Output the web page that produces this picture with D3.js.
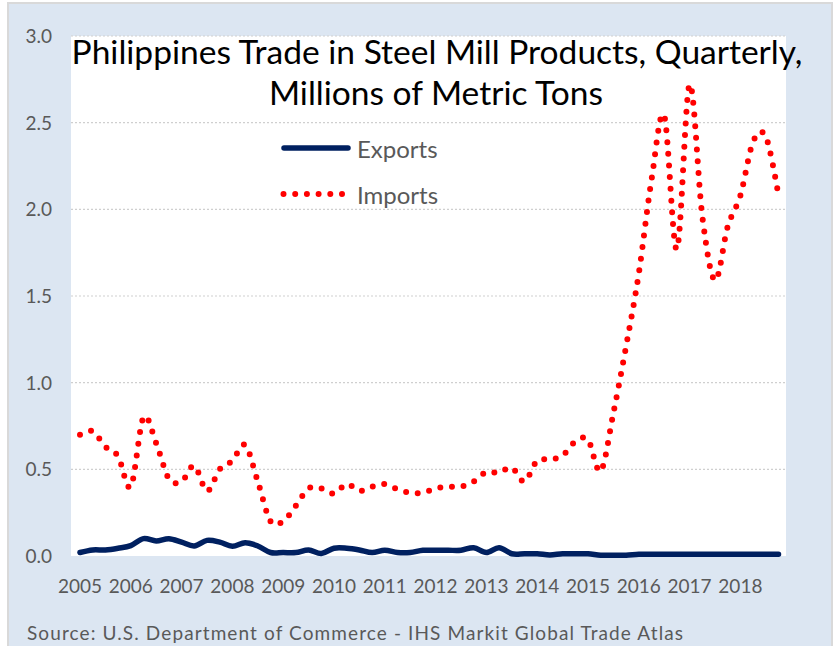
<!DOCTYPE html>
<html>
<head>
<meta charset="utf-8">
<script src="https://cdn.jsdelivr.net/npm/d3@7"></script>
<style>
  body { margin: 0; background: #fff; }
  svg { display: block; }
</style>
</head>
<body>
<div class="container"></div>
<script>
// quarterly series, 2005 Q1 .. 2018 Q4 (millions of metric tons)
const years = [2005, 2006, 2007, 2008, 2009, 2010, 2011, 2012, 2013, 2014, 2015, 2016, 2017, 2018];
const quarters = years.flatMap(y => ["Q1", "Q2", "Q3", "Q4"].map(q => y + q));

const imports = [
  0.70, 0.72, 0.63, 0.575, 0.40, 0.80, 0.65, 0.445,
  0.43, 0.52, 0.375, 0.50, 0.55, 0.64, 0.43, 0.20,
  0.20, 0.29, 0.39, 0.39, 0.36, 0.415, 0.375, 0.40,
  0.415, 0.385, 0.365, 0.365, 0.39, 0.40, 0.40, 0.43,
  0.485, 0.48, 0.51, 0.43, 0.55, 0.555, 0.58, 0.66,
  0.67, 0.49, 0.825, 1.21, 1.63, 2.17, 2.54, 1.77,
  2.72, 1.96, 1.59, 1.90, 2.08, 2.39, 2.42, 2.08
];
const exports_ = [
  0.02, 0.035, 0.035, 0.045, 0.06, 0.10, 0.087, 0.10,
  0.08, 0.058, 0.09, 0.08, 0.056, 0.077, 0.058, 0.02,
  0.02, 0.02, 0.035, 0.015, 0.045, 0.045, 0.035, 0.02,
  0.033, 0.02, 0.02, 0.033, 0.033, 0.033, 0.033, 0.048,
  0.02, 0.048, 0.013, 0.013, 0.013, 0.006, 0.013, 0.013,
  0.013, 0.005, 0.005, 0.005, 0.01, 0.01, 0.01, 0.01,
  0.01, 0.01, 0.01, 0.01, 0.01, 0.01, 0.01, 0.01
];
const yTicks = [0, 0.5, 1.0, 1.5, 2.0, 2.5, 3.0];
const titleLines = ["Philippines Trade in Steel Mill Products, Quarterly,", "Millions of Metric Tons"];
const seriesNames = ["Exports", "Imports"];
const sourceText = "Source: U.S. Department of Commerce - IHS Markit Global Trade Atlas";

const width = 835, height = 646;
const plot = { left: 71, right: 786, top: 36, bottom: 556 };
const font = "Lato, 'Open Sans', sans-serif";
const grey = "#595959";

const svg = d3.select(".container")
  .append("svg")
  .attr("width", width)
  .attr("height", height)
  .attr("font-family", font);

// chart area + plot area
svg.append("rect")
  .attr("x", 8).attr("y", 3)
  .attr("width", 824).attr("height", 660)
  .attr("fill", "#dce6f2")
  .attr("stroke", "#d9d9d9")
  .attr("stroke-width", 2);
svg.append("rect")
  .attr("x", plot.left).attr("y", plot.top)
  .attr("width", plot.right - plot.left)
  .attr("height", plot.bottom - plot.top)
  .attr("fill", "#fff");

let x = d3.scalePoint().domain(quarters).range([80, 778.5]);
let y = d3.scaleLinear().domain([0, 3]).range([plot.bottom, plot.top]);

// dotted gridlines
svg.append("g")
  .selectAll("line")
  .data(yTicks.filter(d => d > 0))
  .join("line")
  .attr("x1", plot.left).attr("x2", plot.right)
  .attr("y1", d => y(d)).attr("y2", d => y(d))
  .attr("stroke", "#cfcfcf")
  .attr("stroke-width", 1.2)
  .attr("stroke-dasharray", "2,2");

// y axis labels
svg.append("g")
  .selectAll("text")
  .data(yTicks)
  .join("text")
  .attr("x", 52)
  .attr("y", d => y(d))
  .attr("dy", "0.36em")
  .attr("text-anchor", "end")
  .attr("font-size", 19)
  .attr("fill", grey)
  .text(d => d.toFixed(1));

// x axis labels, one per year at Q1
svg.append("g")
  .selectAll("text")
  .data(years)
  .join("text")
  .attr("x", d => x(d + "Q1"))
  .attr("y", 593)
  .attr("text-anchor", "middle")
  .attr("font-size", 19)
  .attr("fill", grey)
  .text(d => d);

// lines (smoothed like Excel)
let line = d3.line()
  .x((d, i) => x(quarters[i]))
  .y(d => y(d))
  .curve(d3.curveCardinal.tension(0));

svg.append("path")
  .datum(exports_)
  .attr("d", line)
  .attr("fill", "none")
  .attr("stroke", "#002060")
  .attr("stroke-width", 5.5)
  .attr("stroke-linecap", "round")
  .attr("stroke-linejoin", "round");

svg.append("path")
  .datum(imports)
  .attr("d", line)
  .attr("fill", "none")
  .attr("stroke", "#ff0000")
  .attr("stroke-width", 6)
  .attr("stroke-linecap", "round")
  .attr("stroke-dasharray", "0,11.7");

// title, fitted to the width of the original
const fitText = (sel, target) => {
  let w = sel.node().getComputedTextLength();
  let fs = parseFloat(sel.attr("font-size"));
  sel.attr("font-size", fs * target / w);
};
let t1 = svg.append("text")
  .attr("x", 437).attr("y", 64)
  .attr("text-anchor", "middle")
  .attr("font-size", 32)
  .attr("fill", "#000")
  .text(titleLines[0]);
fitText(t1, 731);
let t2 = svg.append("text")
  .attr("x", 436).attr("y", 105)
  .attr("text-anchor", "middle")
  .attr("font-size", t1.attr("font-size"))
  .attr("fill", "#000")
  .text(titleLines[1]);

// legend
let legend = svg.append("g");
legend.append("line")
  .attr("x1", 284).attr("x2", 348)
  .attr("y1", 148).attr("y2", 148)
  .attr("stroke", "#002060")
  .attr("stroke-width", 5.5)
  .attr("stroke-linecap", "round");
legend.append("line")
  .attr("x1", 283.5).attr("x2", 350)
  .attr("y1", 194).attr("y2", 194)
  .attr("stroke", "#ff0000")
  .attr("stroke-width", 6)
  .attr("stroke-linecap", "round")
  .attr("stroke-dasharray", "0,11.7");
legend.selectAll("text")
  .data(seriesNames)
  .join("text")
  .attr("x", 357)
  .attr("y", (d, i) => 158 + i * 46)
  .attr("font-size", 24)
  .attr("fill", grey)
  .text(d => d);

// source note
svg.append("text")
  .attr("x", 27).attr("y", 640)
  .attr("font-size", 19)
  .attr("fill", grey)
  .attr("textLength", 656)
  .attr("lengthAdjust", "spacing")
  .text(sourceText);
</script>
</body>
</html>
